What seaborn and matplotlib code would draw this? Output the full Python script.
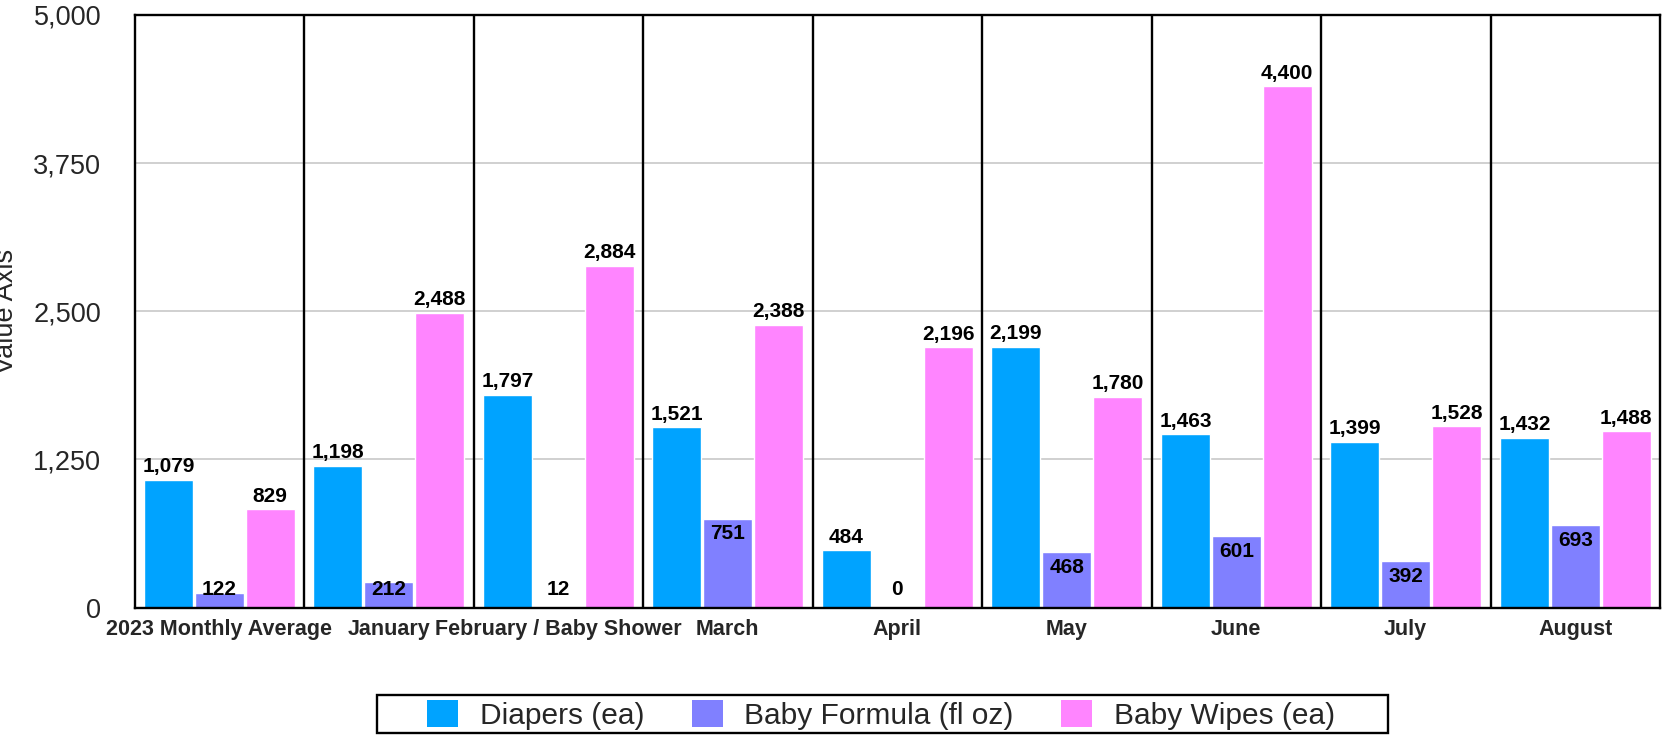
import matplotlib
matplotlib.use("Agg")
import matplotlib.pyplot as plt
from matplotlib.patches import Patch, Rectangle
import seaborn as sns
import pandas as pd

categories = ["2023 Monthly Average", "January", "February / Baby Shower", "March",
              "April", "May", "June", "July", "August"]
series_names = ["Diapers (ea)", "Baby Formula (fl oz)", "Baby Wipes (ea)"]
diapers = [1079, 1198, 1797, 1521, 484, 2199, 1463, 1399, 1432]
formula = [122, 212, 12, 751, 0, 468, 601, 392, 693]
wipes = [829, 2488, 2884, 2388, 2196, 1780, 4400, 1528, 1488]
yticks = [0, 1250, 2500, 3750, 5000]
colors = ["#00A3FF", "#8080FF", "#FF85FF"]

sns.set_theme(style="white")
plt.rcParams['font.family'] = ['Liberation Sans', 'DejaVu Sans']

df = pd.DataFrame({
    "category": categories * 3,
    "series": [series_names[0]] * 9 + [series_names[1]] * 9 + [series_names[2]] * 9,
    "value": diapers + formula + wipes,
})

W, H = 1670, 735
fig = plt.figure(figsize=(W / 100, H / 100), dpi=100)
ax = fig.add_axes([134.5 / W, 1 - 607.5 / H, (1660 - 134.5) / W, (607.5 - 15) / H])

sns.barplot(data=df, x="category", y="value", hue="series", order=categories,
            hue_order=series_names, palette=colors, width=0.90, gap=0.04,
            saturation=1, ax=ax, legend=False, errorbar=None)

ax.set_ylim(0, 5000)
ax.set_xlim(-0.5, len(categories) - 0.5)
ax.set_yticks(yticks)
ax.set_yticklabels([f"{t:,}" for t in yticks], fontsize=19.5)
ax.tick_params(axis='y', length=0, pad=24)
ax.tick_params(axis='x', length=0, pad=8)
for lab in ax.get_xticklabels():
    lab.set_fontweight('bold')
    lab.set_fontsize(15.5)
ax.set_xlabel("")
ax.set_ylabel("Value Axis", fontsize=19.5)
ax.yaxis.set_label_coords(-0.0757, 0.5)

for t in yticks[1:-1]:
    ax.axhline(t, color="#C8C8C8", lw=1.2, zorder=0)
for i in range(1, len(categories)):
    ax.axvline(i - 0.5, color="black", lw=1.7, zorder=3)
for sp in ax.spines.values():
    sp.set_color("black")
    sp.set_linewidth(1.7)
    sp.set_visible(True)
    sp.set_zorder(4)

# value labels
for si, cont in enumerate(ax.containers):
    vals = [diapers, formula, wipes][si]
    for bar, v in zip(cont, vals):
        x = bar.get_x() + bar.get_width() / 2
        txt = f"{v:,}"
        if si == 1:
            if v < 250:
                ax.text(x, 150, txt, ha='center', va='center', fontsize=15,
                        fontweight='bold', color='black', zorder=5)
            else:
                ax.annotate(txt, (x, v), xytext=(0, -4), textcoords='offset points',
                            ha='center', va='top', fontsize=15, fontweight='bold',
                            color='black', zorder=5)
        else:
            ax.annotate(txt, (x, v), xytext=(0, 2.5), textcoords='offset points',
                        ha='center', va='bottom', fontsize=15, fontweight='bold',
                        color='black', zorder=5)

handles = [Patch(facecolor=c, edgecolor='none') for c in colors]
lg = fig.legend(handles, series_names, loc='center', bbox_to_anchor=(881 / W, 1 - 715 / H),
                ncol=3, fontsize=21.5, frameon=False,
                handlelength=1.03, handleheight=1.03, columnspacing=1.6,
                handletextpad=0.72, borderpad=0.0)
fig.add_artist(Rectangle((377 / W, 1 - 733 / H), (1388 - 377) / W, (733 - 695) / H,
                         transform=fig.transFigure, facecolor='none',
                         edgecolor='black', lw=1.7))

fig.savefig("out.png", dpi=100)
